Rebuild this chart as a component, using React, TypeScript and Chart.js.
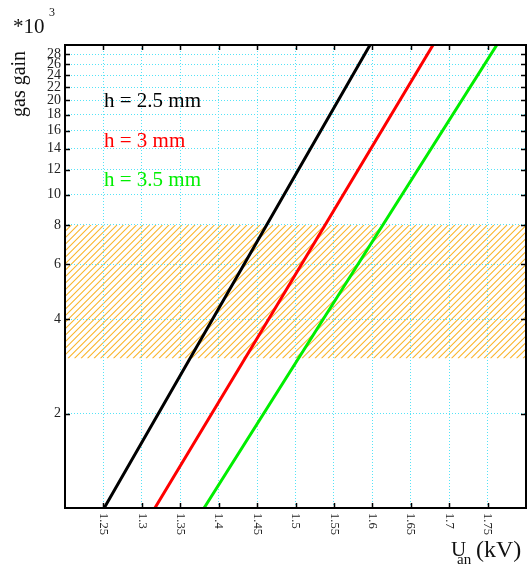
import React, { useEffect, useRef } from 'react';
import { Chart, registerables } from 'chart.js';

Chart.register(...registerables);

// ---- data ----
const voltageTicks = [1.25, 1.3, 1.35, 1.4, 1.45, 1.5, 1.55, 1.6, 1.65, 1.7, 1.75];
const gainTicks = [2, 4, 6, 8, 10, 12, 14, 16, 18, 20, 22, 24, 26, 28];
const seriesLabels = ['h = 2.5 mm', 'h = 3 mm', 'h = 3.5 mm'];
const seriesColors = ['#000000', '#ff0000', '#00ee00'];
const uGap25 = [1.251, 1.392, 1.597];
const gainGap25 = [1, 4, 30];
const uGap3 = [1.317, 1.465, 1.679];
const gainGap3 = [1, 4, 30];
const uGap35 = [1.381, 1.536, 1.762];
const gainGap35 = [1, 4, 30];
const bandLow = 3;
const bandHigh = 8;
const xMin = 1.2;
const xMax = 1.8;
const yMin = 1;
const yMax = 30;

const FONT = '"Liberation Serif", "Times New Roman", serif';

function toPoints(u: number[], g: number[]) {
  return u.map((x, i) => ({ x, y: g[i] }));
}

const decorPlugin = {
  id: 'decor',
  beforeDraw(chart: any) {
    const { ctx, chartArea } = chart;
    const ys = chart.scales.y;
    ctx.save();
    ctx.fillStyle = '#ffffff';
    ctx.fillRect(0, 0, chart.width, chart.height);
    const yTop = ys.getPixelForValue(bandHigh);
    const yBot = ys.getPixelForValue(bandLow);
    const l = chartArea.left;
    const r = chartArea.right;
    ctx.beginPath();
    ctx.rect(l, yTop, r - l, yBot - yTop);
    ctx.clip();
    ctx.strokeStyle = '#f9b52c';
    ctx.lineWidth = 1.1;
    ctx.beginPath();
    const h = yBot - yTop;
    const step = 6.5;
    for (let x0 = l - h - step; x0 < r + step; x0 += step) {
      ctx.moveTo(x0, yBot);
      ctx.lineTo(x0 + h, yTop);
    }
    ctx.stroke();
    ctx.restore();
  },
  afterDraw(chart: any) {
    const { ctx, chartArea } = chart;
    const xs = chart.scales.x;
    const ys = chart.scales.y;
    const { left, right, top, bottom } = chartArea;
    ctx.save();
    // frame
    ctx.strokeStyle = '#000';
    ctx.lineWidth = 2;
    ctx.strokeRect(left, top, right - left, bottom - top);
    // inward tick marks
    ctx.lineWidth = 1.5;
    ctx.beginPath();
    for (const t of ys.ticks) {
      const py = Math.round(ys.getPixelForValue(t.value)) + 0.5;
      ctx.moveTo(left, py);
      ctx.lineTo(left + 5, py);
      ctx.moveTo(right, py);
      ctx.lineTo(right - 5, py);
    }
    for (const t of xs.ticks) {
      const px = Math.round(xs.getPixelForValue(t.value)) + 0.5;
      ctx.moveTo(px, bottom);
      ctx.lineTo(px, bottom - 5);
      ctx.moveTo(px, top);
      ctx.lineTo(px, top + 5);
    }
    ctx.stroke();
    // x tick labels rotated clockwise
    ctx.fillStyle = '#222';
    ctx.font = `12.5px ${FONT}`;
    ctx.textAlign = 'left';
    ctx.textBaseline = 'middle';
    for (const t of xs.ticks) {
      const px = xs.getPixelForValue(t.value);
      ctx.save();
      ctx.translate(px, bottom + 5);
      ctx.rotate(Math.PI / 2);
      ctx.fillText(String(t.value), 0, 0);
      ctx.restore();
    }
    // series labels
    ctx.font = `21px ${FONT}`;
    ctx.textBaseline = 'alphabetic';
    const baselines = [107, 147, 186];
    seriesLabels.forEach((lab, i) => {
      ctx.fillStyle = seriesColors[i];
      ctx.fillText(lab, 104, baselines[i]);
    });
    // multiplier
    ctx.fillStyle = '#111';
    ctx.font = `21px ${FONT}`;
    ctx.fillText('*10', 13, 33);
    ctx.font = `12px ${FONT}`;
    ctx.fillText('3', 49, 16);
    // y title
    ctx.save();
    ctx.font = `20px ${FONT}`;
    ctx.translate(25, 117);
    ctx.rotate(-Math.PI / 2);
    ctx.fillText('gas gain', 0, 0);
    ctx.restore();
    // x title
    ctx.font = `21px ${FONT}`;
    ctx.fillText('U', 451, 556);
    ctx.font = `15px ${FONT}`;
    ctx.fillText('an', 457, 564);
    ctx.font = `24px ${FONT}`;
    ctx.fillText('(kV)', 476, 557);
    ctx.restore();
  },
};

export default function App() {
  const ref = useRef<HTMLCanvasElement | null>(null);
  useEffect(() => {
    document.body.style.margin = '0';
    const canvas = ref.current!;
    const gridColor = '#55e3f7';
    const chart = new Chart(canvas, {
      type: 'line',
      data: {
        datasets: [
          { label: seriesLabels[0], data: toPoints(uGap25, gainGap25), borderColor: seriesColors[0], borderWidth: 3, pointRadius: 0, tension: 0, fill: false },
          { label: seriesLabels[1], data: toPoints(uGap3, gainGap3), borderColor: seriesColors[1], borderWidth: 3, pointRadius: 0, tension: 0, fill: false },
          { label: seriesLabels[2], data: toPoints(uGap35, gainGap35), borderColor: seriesColors[2], borderWidth: 3, pointRadius: 0, tension: 0, fill: false },
        ],
      },
      options: {
        animation: false,
        responsive: false,
        maintainAspectRatio: false,
        devicePixelRatio: 1,
        layout: { padding: { left: 0, right: 2, top: 45, bottom: 0 } },
        plugins: { legend: { display: false }, tooltip: { enabled: false } },
        scales: {
          x: {
            type: 'linear',
            min: xMin,
            max: xMax,
            afterBuildTicks: (s: any) => {
              s.ticks = voltageTicks.map((v) => ({ value: v }));
            },
            afterFit: (s: any) => {
              s.height = 60;
            },
            ticks: { display: false },
            grid: { color: gridColor, lineWidth: 1, drawTicks: false },
            border: { display: false, dash: [1, 2] },
          },
          y: {
            type: 'logarithmic',
            min: yMin,
            max: yMax,
            afterBuildTicks: (s: any) => {
              s.ticks = gainTicks.map((v) => ({ value: v }));
            },
            afterFit: (s: any) => {
              s.width = 65;
            },
            ticks: {
              autoSkip: false,
              padding: 4,
              color: '#222',
              font: { family: FONT, size: 14 },
              callback: (v: any) => String(v),
            },
            grid: { color: gridColor, lineWidth: 1, drawTicks: false },
            border: { display: false, dash: [1, 2] },
          },
        },
      } as any,
      plugins: [decorPlugin],
    });
    return () => chart.destroy();
  }, []);
  return (
    <div style={{ position: 'absolute', left: 0, top: 0, width: 528, height: 568 }}>
      <canvas ref={ref} width={528} height={568} style={{ display: 'block' }} />
    </div>
  );
}
